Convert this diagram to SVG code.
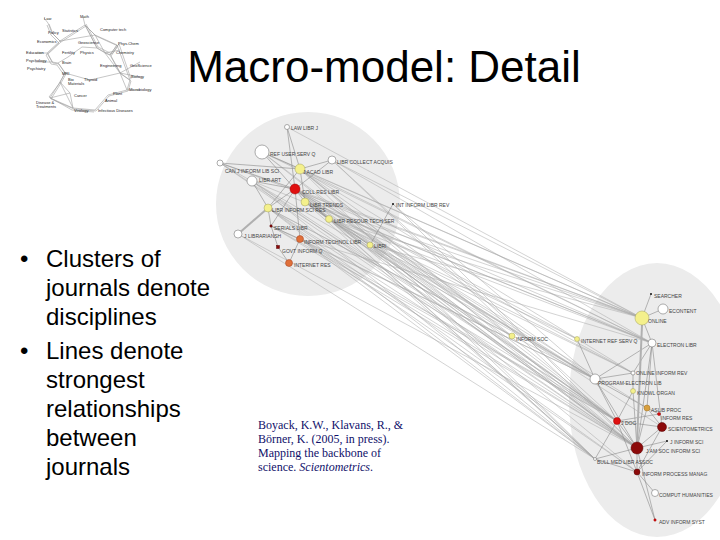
<svg xmlns="http://www.w3.org/2000/svg" width="720" height="540" viewBox="0 0 720 540">
<style>
.title{font-family:"Liberation Sans",Arial,sans-serif;font-size:44px;fill:#000}
.bul{font-family:"Liberation Sans",Arial,sans-serif;font-size:24px;fill:#000}
.cite{font-family:"Liberation Serif","Times New Roman",serif;font-size:12px;fill:#10106a}
.lbl{font-family:"Liberation Sans",Arial,sans-serif;font-size:5px;fill:#444}
.tl{font-family:"Liberation Sans",Arial,sans-serif;font-size:4px;fill:#222}
.e{stroke:#a8a8a8;stroke-width:.6;fill:none;stroke-opacity:.85}
.ei{stroke:#8a8a8a;stroke-width:.6;fill:none}
.ek{stroke:#b0b0b0;stroke-width:2;fill:none}
.te{stroke:#a0a0a0;stroke-width:.6;fill:none}
.h{fill:#fff;stroke:#777;stroke-width:.6}
.y{fill:#f4f08c;stroke:#a0a060;stroke-width:.5}
.r{fill:#e01010;stroke:#900;stroke-width:.5}
.dr{fill:#8c0a0a;stroke:#500;stroke-width:.5}
.o{fill:#e0703a;stroke:#a04020;stroke-width:.5}
.go{fill:#d8a040;stroke:#a07020;stroke-width:.5}
.k{fill:#111}
.bg{fill:#ececec}
</style>

<!-- thumbnail map -->
<g id="thumbnail">
<g class="te">
<polyline points="48,23 52,33 60,41 47,53 52,62 58,63 65,73 60,82 50,98 73,108 95,110 102,102 108,95 127,90 130,80 120,73 110,55 105,53 97,48 85,25"/>
<polyline points="49,24 53,34 61,42 48,54 53,63 59,64 66,74 61,83 51,99 74,109 96,111 103,103 109,96 128,91 131,81 121,74 111,56"/>
<polyline points="47,25 51,35 59,43 46,55 51,64 57,65 64,75 59,84 49,97 72,110 94,112"/>
<polyline points="60,41 85,25 95,35 117,45 110,55"/>
<polyline points="61,42 86,26 96,36 118,46 111,56"/>
<polyline points="60,41 95,35 105,53 120,73"/>
<polyline points="85,25 97,48 110,55 117,45 130,80"/>
<polyline points="86,24 98,47 112,54 119,44 131,79"/>
<polyline points="70,93 50,98"/><polyline points="70,93 73,108"/><polyline points="70,93 60,82"/>
<polyline points="58,63 68,57 82,47 97,48"/><polyline points="90,80 120,73"/><polyline points="90,80 65,73"/>
<polyline points="120,73 140,62"/><polyline points="120,73 140,77"/><polyline points="127,90 140,90"/>
<polyline points="47,53 35,53"/><polyline points="52,62 35,62"/><polyline points="48,23 44,18"/>
<polyline points="85,25 83,17"/><polyline points="105,53 120,50"/><polyline points="120,73 127,90"/><polyline points="60,82 73,108"/>
</g>
<text class="tl" x="44" y="20">Law</text>
<text class="tl" x="80" y="18">Math</text>
<text class="tl" x="48" y="34">Policy</text>
<text class="tl" x="62" y="32">Statistics</text>
<text class="tl" x="100" y="31">Computer tech</text>
<text class="tl" x="37" y="43">Economics</text>
<text class="tl" x="78" y="44">Geoscience</text>
<text class="tl" x="118" y="45">Phys-Chem</text>
<text class="tl" x="26" y="54">Education</text>
<text class="tl" x="62" y="54">Fertility</text>
<text class="tl" x="80" y="54">Physics</text>
<text class="tl" x="116" y="54">Chemistry</text>
<text class="tl" x="26" y="62">Psychology</text>
<text class="tl" x="27" y="70">Psychiatry</text>
<text class="tl" x="62" y="64">Brain</text>
<text class="tl" x="62" y="75">MRI</text>
<text class="tl" x="100" y="67">Engineering</text>
<text class="tl" x="130" y="67">GeoScience</text>
<text class="tl" x="68" y="81">Bio</text>
<text class="tl" x="68" y="85">Materials</text>
<text class="tl" x="84" y="81">Thyroid</text>
<text class="tl" x="131" y="78">Biology</text>
<text class="tl" x="129" y="91">Microbiology</text>
<text class="tl" x="113" y="95">Plant</text>
<text class="tl" x="105" y="102">Animal</text>
<text class="tl" x="74" y="97">Cancer</text>
<text class="tl" x="36" y="104">Disease &amp;</text>
<text class="tl" x="36" y="108">Treatments</text>
<text class="tl" x="74" y="112">Virology</text>
<text class="tl" x="98" y="112">Infectious Diseases</text>
</g>

<text class="title" x="384" y="82" text-anchor="middle">Macro-model: Detail</text>

<g id="bullets">
<text class="bul" x="20" y="267" font-size="18">•</text>
<text class="bul" x="46" y="267">Clusters of</text>
<text class="bul" x="46" y="296">journals denote</text>
<text class="bul" x="46" y="325">disciplines</text>
<text class="bul" x="20" y="359" font-size="18">•</text>
<text class="bul" x="46" y="359">Lines denote</text>
<text class="bul" x="46" y="388">strongest</text>
<text class="bul" x="46" y="417">relationships</text>
<text class="bul" x="46" y="446">between</text>
<text class="bul" x="46" y="475">journals</text>
</g>

<g id="citation">
<text class="cite" x="258" y="429">Boyack, K.W., Klavans, R., &amp;</text>
<text class="cite" x="258" y="443">Börner, K. (2005, in press).</text>
<text class="cite" x="258" y="457">Mapping the backbone of</text>
<text class="cite" x="258" y="471">science. <tspan font-style="italic">Scientometrics</tspan>.</text>
</g>

<!-- cluster backgrounds -->
<circle id="cluster-library" class="bg" cx="308" cy="204" r="92"/>
<ellipse id="cluster-infosci" class="bg" cx="657" cy="400" rx="88" ry="137"/>

<g id="connectors">
<!-- inter-cluster -->
<g class="e">
<path d="M300,169L642,318M300,169L652,343M300,169L637,448M300,169L617,421M300,169L595,379M300,169L633,373M300,169L595,459"/>
<path d="M295,189L642,318M295,189L652,343M295,189L637,448M295,189L617,421M295,189L595,379M295,189L637,472M295,189L662,427M295,189L595,459M295,189L633,373M295,189L647,408"/>
<path d="M305,202L642,318M305,202L637,448M305,202L617,421M305,202L595,379M305,202L595,459M305,202L652,343"/>
<path d="M268,208L637,448M268,208L617,421M268,208L595,379M268,208L595,459M268,208L637,472"/>
<path d="M329,219L642,318M329,219L637,448M329,219L617,421M329,219L595,379M329,219L652,343M329,219L595,459M329,219L633,373"/>
<path d="M300,239L637,448M300,239L617,421M300,239L595,459M300,239L595,379M300,239L637,472"/>
<path d="M370,245L637,448M370,245L617,421M370,245L595,379M370,245L595,459M370,245L642,318"/>
<path d="M262,152L642,318M262,152L637,448M262,152L617,421M262,152L652,343"/>
<path d="M220,163L637,448M220,163L617,421M220,163L595,379M220,163L642,318"/>
<path d="M252,181L637,448M252,181L617,421M252,181L595,459M252,181L652,343"/>
<path d="M271,226L637,448M271,226L617,421M271,226L595,379"/>
<path d="M332,160L642,318M332,160L652,343M332,160L637,448"/>
<path d="M238,234L637,448M238,234L595,459"/>
<path d="M295,189L577,339M300,169L512,336M305,202L512,336M329,219L577,339M268,208L512,336"/>
<path d="M287,127L642,318M332,160L617,421M393,204L637,448M393,204L595,379M300,239L652,343M370,245L633,373"/>
</g>
<!-- left cluster internal -->
<g class="ei">
<path d="M287,127L295,189M287,127L300,169M262,152L300,169M262,152L295,189M332,160L300,169M332,160L295,189M220,163L300,169M220,163L295,189"/>
<path d="M252,181L295,189M252,181L268,208M295,189L305,202M295,189L268,208M295,189L329,219M295,189L271,226M295,189L300,239M300,169L305,202M300,169L268,208"/>
<path d="M271,226L300,239M300,239L289,263M278,247L289,263M271,226L278,247M329,219L370,245M393,204L370,245M305,202L329,219M268,208L271,226"/>
</g>
<path class="ek" d="M268,208L238,234"/>
<!-- right cluster internal -->
<g class="ei">
<path d="M642,318L651,294M642,318L663,309M642,318L652,343M652,343L595,379M652,343L633,373M652,343L637,448M652,343L647,408M652,343L662,427"/>
<path d="M595,379L633,373M595,379L577,339M595,379L617,421M595,379L647,408M595,379L637,448M633,373L633,391M633,391L617,421M633,391L637,448"/>
<path d="M647,408L637,448M617,421L637,448M617,421L662,427M662,427L637,448M662,427L637,472M637,448L667,441M637,448L637,472M637,448L595,459M637,472L595,459"/>
<path d="M637,472L655,493M637,448L655,520M637,472L655,520M667,441L637,472M617,421L595,459M659,414L617,421M659,414L647,408M647,408L662,427M617,421L637,472"/>
</g>
<path class="ek" d="M642,325L637,442"/>
</g>

<!-- left cluster nodes -->
<g id="n-lawlibrj"><circle class="h" cx="287" cy="127" r="2.5"/><text class="lbl" x="291" y="130">LAW LIBR J</text></g>
<g id="n-refuserservq"><circle class="h" cx="262" cy="152" r="7"/><text class="lbl" x="270" y="156">REF USER SERV Q</text></g>
<g id="n-librcollectacquis"><circle class="h" cx="332" cy="160" r="4"/><text class="lbl" x="337" y="164">LIBR COLLECT ACQUIS</text></g>
<g id="n-canjinform"><circle class="h" cx="220" cy="163" r="3"/><text class="lbl" x="225" y="173">CAN J INFORM LIB SCI</text></g>
<g id="n-jacadlibr"><circle class="y" cx="300" cy="169" r="5"/><text class="lbl" x="303" y="174">J ACAD LIBR</text></g>
<g id="n-librart"><circle class="h" cx="252" cy="181" r="5"/><text class="lbl" x="259" y="182">LIBR ART</text></g>
<g id="n-collreslibr"><circle class="r" cx="295" cy="189" r="5"/><text class="lbl" x="302" y="194">COLL RES LIBR</text></g>
<g id="n-librtrends"><circle class="y" cx="305" cy="202" r="4"/><text class="lbl" x="310" y="207">LIBR TRENDS</text></g>
<g id="n-intinformlibrrev"><circle class="k" cx="393" cy="204" r="1"/><text class="lbl" x="396" y="207">INT INFORM LIBR REV</text></g>
<g id="n-librinformscires"><circle class="y" cx="268" cy="208" r="4"/><text class="lbl" x="272" y="212">LIBR INFORM SCI RES</text></g>
<g id="n-librresourtechser"><circle class="y" cx="329" cy="219" r="3.5"/><text class="lbl" x="334" y="223">LIBR RESOUR TECH SER</text></g>
<g id="n-serialslibr"><circle class="dr" cx="271" cy="226" r="1.2"/><text class="lbl" x="274" y="230">SERIALS LIBR</text></g>
<g id="n-jlibrarianship"><circle class="h" cx="238" cy="234" r="4"/><text class="lbl" x="244" y="238">J LIBRARIANSH</text></g>
<g id="n-informtechnollibr"><circle class="o" cx="300" cy="239" r="3.5"/><text class="lbl" x="304" y="244">INFORM TECHNOL LIBR</text></g>
<g id="n-libri"><circle class="y" cx="370" cy="245" r="3"/><text class="lbl" x="374" y="248">LIBRI</text></g>
<g id="n-govtinformq"><rect class="dr" x="276.5" y="245.5" width="3" height="3"/><text class="lbl" x="282" y="253">GOVT INFORM Q</text></g>
<g id="n-internetres"><circle class="o" cx="289" cy="263" r="3.5"/><text class="lbl" x="294" y="267">INTERNET RES</text></g>

<!-- right cluster nodes -->
<g id="n-searcher"><circle class="k" cx="651" cy="294" r="1"/><text class="lbl" x="654" y="298">SEARCHER</text></g>
<g id="n-econtent"><circle class="h" cx="663" cy="309" r="5"/><text class="lbl" x="669" y="313">ECONTENT</text></g>
<g id="n-online"><circle class="y" cx="642" cy="318" r="7"/><text class="lbl" x="648" y="323">ONLINE</text></g>
<g id="n-informsoc"><circle class="y" cx="512" cy="336" r="3"/><text class="lbl" x="516" y="341">INFORM SOC</text></g>
<g id="n-internetrefservq"><circle class="y" cx="577" cy="339" r="2.5"/><text class="lbl" x="581" y="343">INTERNET REF SERV Q</text></g>
<g id="n-electronlibr"><circle class="h" cx="652" cy="343" r="4"/><text class="lbl" x="657" y="347">ELECTRON LIBR</text></g>
<g id="n-onlineinformrev"><circle class="h" cx="633" cy="373" r="2"/><text class="lbl" x="636" y="375">ONLINE INFORM REV</text></g>
<g id="n-program"><circle class="h" cx="595" cy="379" r="5"/><text class="lbl" x="598" y="385">PROGRAM-ELECTRON LIB</text></g>
<g id="n-knowlorgan"><circle class="y" cx="633" cy="391" r="2.5"/><text class="lbl" x="637" y="395">KNOWL ORGAN</text></g>
<g id="n-aslibproc"><circle class="go" cx="647" cy="408" r="3"/><text class="lbl" x="651" y="412">ASLIB PROC</text></g>
<g id="n-informres"><circle class="r" cx="659" cy="414" r="1.5"/><text class="lbl" x="661" y="420">INFORM RES</text></g>
<g id="n-jdoc"><circle class="r" cx="617" cy="421" r="3.5"/><text class="lbl" x="621" y="425">J DOC</text></g>
<g id="n-scientometrics"><circle class="dr" cx="662" cy="427" r="4.5"/><text class="lbl" x="668" y="431">SCIENTOMETRICS</text></g>
<g id="n-jinformsci"><circle class="k" cx="667" cy="441" r="1"/><text class="lbl" x="670" y="444">J INFORM SCI</text></g>
<g id="n-jasis"><circle class="dr" cx="637" cy="448" r="6"/><text class="lbl" x="646" y="453">J AM SOC INFORM SCI</text></g>
<g id="n-bullmedlibr"><circle class="h" cx="595" cy="459" r="1.5"/><text class="lbl" x="597" y="464">BULL MED LIBR ASSOC</text></g>
<g id="n-informprocessmanag"><circle class="dr" cx="637" cy="472" r="3"/><text class="lbl" x="642" y="476">INFORM PROCESS MANAG</text></g>
<g id="n-computhumanities"><circle class="h" cx="655" cy="493" r="3.5"/><text class="lbl" x="659" y="497">COMPUT HUMANITIES</text></g>
<g id="n-advinformsyst"><circle class="r" cx="655" cy="520" r="1.2"/><text class="lbl" x="659" y="524">ADV INFORM SYST</text></g>
</svg>
